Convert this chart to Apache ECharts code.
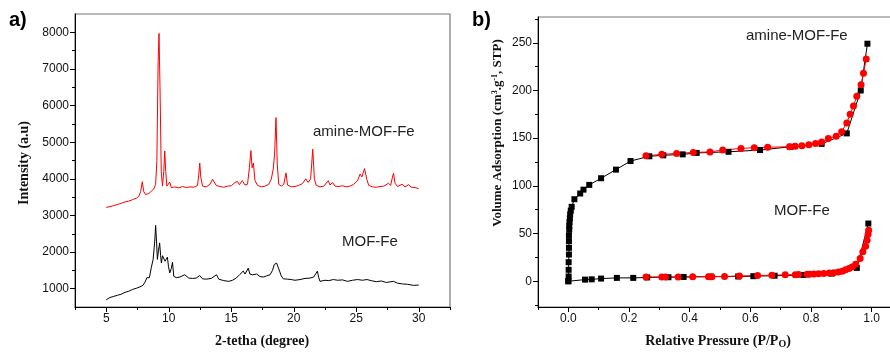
<!DOCTYPE html>
<html><head><meta charset="utf-8">
<script src="https://cdn.jsdelivr.net/npm/echarts@6/dist/echarts.min.js"></script>
<style>html,body{margin:0;padding:0;background:#fff}#c{width:890px;height:353px}</style>
</head><body><div id="c"></div>
<script>
// ---- Panel a) XRD data: [2theta, intensity] ----
var amineXrd = [[5.0,3220],[5.3,3240],[5.6,3270],[5.9,3300],[6.2,3330],[6.5,3370],[6.8,3390],[7.1,3430],[7.4,3470],[7.6,3520],[7.75,3650],[7.88,3920],[8.0,3650],[8.15,3570],[8.4,3600],[8.6,3660],[8.8,3720],[8.95,3850],[9.05,4500],[9.15,7200],[9.22,7970],[9.3,6500],[9.4,4200],[9.5,3800],[9.6,4200],[9.68,4760],[9.76,4200],[9.85,3800],[10.0,3820],[10.08,3910],[10.2,3760],[10.5,3780],[10.8,3750],[11.1,3790],[11.4,3760],[11.7,3780],[12.0,3770],[12.3,3820],[12.4,4100],[12.48,4430],[12.56,4050],[12.7,3800],[13.0,3780],[13.3,3850],[13.5,3990],[13.65,3950],[13.8,3820],[14.1,3790],[14.4,3770],[14.7,3800],[15.0,3810],[15.3,3900],[15.5,3930],[15.65,3840],[15.88,3950],[16.1,3830],[16.3,3850],[16.45,4300],[16.57,4770],[16.67,4300],[16.77,4430],[16.9,3950],[17.1,3820],[17.4,3780],[17.7,3800],[18.0,3850],[18.2,3990],[18.36,4270],[18.47,4700],[18.58,5670],[18.68,4400],[18.8,3850],[19.0,3800],[19.2,3850],[19.38,4160],[19.5,3830],[19.8,3780],[20.1,3790],[20.4,3820],[20.7,3870],[20.96,4000],[21.15,3900],[21.35,4000],[21.52,4810],[21.65,4000],[21.8,3820],[22.1,3780],[22.4,3800],[22.77,3950],[22.9,3830],[23.1,3900],[23.3,3800],[23.6,3790],[23.9,3810],[24.2,3780],[24.5,3800],[24.8,3850],[25.1,3950],[25.31,4130],[25.45,4050],[25.66,4280],[25.85,3980],[26.0,3820],[26.3,3780],[26.6,3770],[26.9,3790],[27.2,3800],[27.58,3880],[27.75,3820],[27.9,4050],[27.98,4150],[28.1,3880],[28.3,3790],[28.66,3850],[28.9,3780],[29.19,3840],[29.4,3770],[29.7,3760],[30.0,3730]];
var mofXrd = [[5.0,700],[5.3,760],[5.6,790],[5.9,820],[6.2,850],[6.5,900],[6.8,930],[7.1,980],[7.4,1010],[7.7,1050],[7.93,1090],[8.1,1180],[8.25,1300],[8.34,1340],[8.45,1300],[8.6,1570],[8.75,1800],[8.88,2300],[8.95,2730],[9.02,2300],[9.09,1800],[9.18,2050],[9.27,2250],[9.35,1900],[9.41,1700],[9.5,1900],[9.62,1890],[9.7,1750],[9.75,1700],[9.82,1800],[9.89,1860],[9.98,1600],[10.08,1430],[10.2,1550],[10.3,1720],[10.4,1340],[10.6,1300],[10.9,1320],[11.28,1380],[11.6,1290],[11.9,1280],[12.2,1290],[12.48,1360],[12.7,1270],[13.0,1260],[13.4,1280],[13.82,1380],[14.0,1260],[14.4,1220],[14.8,1200],[15.1,1230],[15.4,1290],[15.69,1390],[15.85,1350],[15.96,1480],[16.1,1400],[16.36,1560],[16.49,1400],[16.7,1380],[17.03,1400],[17.3,1330],[17.6,1320],[17.83,1350],[18.1,1380],[18.3,1500],[18.44,1660],[18.55,1620],[18.63,1700],[18.74,1600],[18.84,1560],[19.0,1350],[19.16,1270],[19.5,1260],[19.8,1250],[20.1,1230],[20.5,1250],[20.9,1280],[21.3,1290],[21.6,1320],[21.89,1480],[22.0,1300],[22.1,1200],[22.5,1230],[22.8,1220],[23.17,1250],[23.5,1230],[23.9,1240],[24.3,1200],[24.7,1230],[25.1,1250],[25.5,1230],[25.85,1250],[26.2,1220],[26.6,1190],[27.0,1210],[27.4,1170],[27.98,1200],[28.3,1150],[28.7,1130],[29.1,1120],[29.59,1090],[30.0,1100]];
var xrdXTicks = [5,10,15,20,25,30];
var xrdXMinor = [2.5,7.5,12.5,17.5,22.5,27.5,32.5];
var xrdYTicks = [1000,2000,3000,4000,5000,6000,7000,8000];
var xrdYMinor = [1500,2500,3500,4500,5500,6500,7500];

// ---- Panel b) N2 isotherms: [P/P0, volume] ----
var amineAds = [[0.0,0],[0.001,5],[0.001,12],[0.001,20],[0.002,28],[0.002,35],[0.002,42],[0.002,48],[0.003,54],[0.003,58],[0.004,62],[0.005,66],[0.006,70],[0.008,74],[0.011,78],[0.02,86],[0.039,92],[0.05,96],[0.069,101],[0.108,108],[0.157,117],[0.205,126],[0.267,131],[0.313,132],[0.377,133],[0.423,134.5],[0.528,135.7],[0.632,137.5],[0.733,141],[0.835,144],[0.918,155],[0.964,200],[0.986,249]];
var amineDes = [[0.982,233],[0.973,218],[0.965,206],[0.951,194],[0.94,183.6],[0.929,175],[0.918,166],[0.901,156.7],[0.883,152],[0.857,149.7],[0.835,146],[0.815,144.5],[0.793,143],[0.77,142],[0.748,141.5],[0.729,141],[0.657,140.5],[0.613,140],[0.569,139.2],[0.509,137.5],[0.467,135.6],[0.412,135],[0.357,134],[0.308,133],[0.256,131.5]];
var mofAds = [[0.0,0],[0.055,1.7],[0.077,2],[0.108,2.8],[0.16,3.5],[0.214,3.5],[0.26,4],[0.33,4.2],[0.38,4.5],[0.47,4.8],[0.56,5],[0.61,5.3],[0.68,5.8],[0.775,6.5],[0.868,8],[0.951,14],[0.989,60.5]];
var mofDes = [[0.99,53.5],[0.988,49],[0.985,43],[0.98,36.7],[0.971,30.8],[0.962,23.8],[0.947,17.8],[0.935,15],[0.925,13.3],[0.914,12],[0.903,10.5],[0.89,9.7],[0.875,9],[0.86,8.6],[0.842,8.2],[0.825,7.8],[0.809,7.5],[0.795,7.3],[0.787,7.3],[0.759,7],[0.748,6.9],[0.715,6.7],[0.671,6.3],[0.624,6],[0.564,5.5],[0.515,5],[0.473,4.8],[0.462,4.8],[0.41,4.6],[0.362,4.5],[0.32,4.5],[0.308,4.5],[0.256,4.5]];
var bXTicks = [0,0.2,0.4,0.6,0.8,1.0];
var bXMinor = [-0.1,0.1,0.3,0.5,0.7,0.9,1.1];
var bYTicks = [0,50,100,150,200,250];
var bYMinor = [-25,25,75,125,175,225,275];

var chart = echarts.init(document.getElementById('c'), null, {renderer:'canvas'});
var lblStyle = {color:'#111', fontSize:12, fontFamily:'Liberation Sans, Arial, sans-serif'};
function mainAxis(gi, pos, min, max, ticks, fmt){
  return {type:'value', gridIndex:gi, position:pos, min:min, max:max,
    axisLine:{show:true, onZero:false, lineStyle:{color:'#000', width:1}},
    axisTick:{show:true, customValues:ticks, length:5, lineStyle:{color:'#000'}},
    axisLabel:{show:true, customValues:ticks, margin:6, formatter:fmt, color:lblStyle.color, fontSize:12, fontFamily:lblStyle.fontFamily},
    splitLine:{show:false}};
}
function minorAxis(gi, pos, min, max, ticks){
  return {type:'value', gridIndex:gi, position:pos, min:min, max:max,
    axisLine:{show:false, onZero:false},
    axisTick:{show:true, customValues:ticks, length:3, lineStyle:{color:'#000'}},
    axisLabel:{show:false}, splitLine:{show:false}};
}
var serif = 'Liberation Serif, Times New Roman, serif';
var sans = 'Liberation Sans, Arial, sans-serif';

chart.setOption({
  animation:false,
  backgroundColor:'#fff',
  grid:[
    {left:75, top:14, width:375, height:293, show:true, borderColor:'#777', borderWidth:1.2, containLabel:false, outerBoundsMode:'none'},
    {left:538, top:17, width:364, height:290, show:true, borderColor:'#777', borderWidth:1.2, containLabel:false, outerBoundsMode:'none'}
  ],
  xAxis:[
    mainAxis(0,'bottom',2.5,32.5,xrdXTicks,function(v){return String(v);}),
    minorAxis(0,'bottom',2.5,32.5,xrdXMinor),
    mainAxis(1,'bottom',-0.1,1.1,bXTicks,function(v){return v.toFixed(1);}),
    minorAxis(1,'bottom',-0.1,1.1,bXMinor)
  ],
  yAxis:[
    mainAxis(0,'left',500,8500,xrdYTicks,function(v){return String(v);}),
    minorAxis(0,'left',500,8500,xrdYMinor),
    mainAxis(1,'left',-27,277,bYTicks,function(v){return String(v);}),
    minorAxis(1,'left',-27,277,bYMinor)
  ],
  series:[
    {type:'line', xAxisIndex:0, yAxisIndex:0, data:amineXrd, showSymbol:false, lineStyle:{color:'#ff0000', width:1}, itemStyle:{color:'#ff0000'}},
    {type:'line', xAxisIndex:0, yAxisIndex:0, data:mofXrd, showSymbol:false, lineStyle:{color:'#000', width:1}, itemStyle:{color:'#000'}},
    {type:'line', xAxisIndex:2, yAxisIndex:2, data:amineAds, symbol:'rect', symbolSize:6, lineStyle:{color:'#000', width:1}, itemStyle:{color:'#000'}},
    {type:'line', xAxisIndex:2, yAxisIndex:2, data:mofAds, symbol:'rect', symbolSize:6, lineStyle:{color:'#000', width:1}, itemStyle:{color:'#000'}},
    {type:'line', xAxisIndex:2, yAxisIndex:2, data:amineDes, symbol:'circle', symbolSize:7, lineStyle:{color:'#ff0000', width:1}, itemStyle:{color:'#ff0000'}},
    {type:'line', xAxisIndex:2, yAxisIndex:2, data:mofDes, symbol:'circle', symbolSize:7, lineStyle:{color:'#ff0000', width:1}, itemStyle:{color:'#ff0000'}}
  ],
  graphic:[
    {type:'text', left:9, top:10, style:{text:'a)', font:'bold 20px '+sans, fill:'#000'}},
    {type:'text', left:472, top:10, style:{text:'b)', font:'bold 20px '+sans, fill:'#000'}},
    {type:'text', x:313, y:132, style:{text:'amine-MOF-Fe', font:'15px '+sans, fill:'#222', verticalAlign:'middle'}},
    {type:'text', x:342, y:242, style:{text:'MOF-Fe', font:'15px '+sans, fill:'#222', verticalAlign:'middle'}},
    {type:'text', x:746, y:36, style:{text:'amine-MOF-Fe', font:'15px '+sans, fill:'#222', verticalAlign:'middle'}},
    {type:'text', x:774, y:211, style:{text:'MOF-Fe', font:'15px '+sans, fill:'#222', verticalAlign:'middle'}},
    {type:'text', x:24, y:163, rotation:Math.PI/2, style:{text:'Intensity (a.u)', font:'bold 14px '+serif, fill:'#111', align:'center', verticalAlign:'middle'}},
    {type:'text', x:262, y:341, style:{text:'2-tetha (degree)', font:'bold 14px '+serif, fill:'#111', align:'center', verticalAlign:'middle'}},
    {type:'text', x:498, y:133, rotation:Math.PI/2, style:{
      text:'{n|Volume Adsorption (cm}{s|3}{n|.g}{s|-1}{n|, STP)}', align:'center', verticalAlign:'middle',
      rich:{n:{font:'bold 13px '+serif, fill:'#111'}, s:{font:'bold 8px '+serif, fill:'#111', verticalAlign:'top', padding:[0,0,6,0]}}}},
    {type:'text', x:718, y:341, style:{
      text:'{n|Relative Pressure (P/P}{b|O}{n|)}', align:'center', verticalAlign:'middle',
      rich:{n:{font:'bold 14px '+serif, fill:'#111'}, b:{font:'bold 10px '+serif, fill:'#111', padding:[6,0,0,0]}}}}
  ]
});
</script></body></html>
